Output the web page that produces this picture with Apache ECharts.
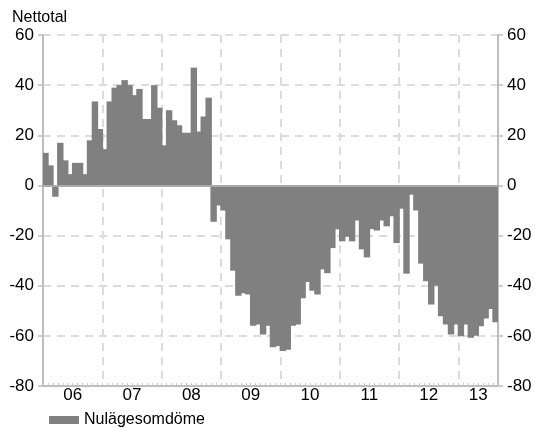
<!DOCTYPE html>
<html>
<head>
<meta charset="utf-8">
<script src="https://cdn.jsdelivr.net/npm/echarts@6/dist/echarts.min.js"></script>
<style>html,body{margin:0;padding:0;background:#fff}#c{width:535px;height:428px}</style>
</head>
<body>
<div id="c"></div>
<script>
// ---- data ----
const yearLabels = ['06', '07', '08', '09', '10', '11', '12', '13'];
const v2006 = [13, 8, -4.5, 17, 10, 4.5, 9, 9, 4.5, 18, 33.5, 22.5];
const v2007 = [14.5, 33.5, 39, 40, 42, 40, 36, 38.5, 26.5, 26.5, 40, 31];
const v2008 = [16, 30, 26, 24, 21, 21, 47, 21.5, 27.5, 35, -14.5, -8];
const v2009 = [-10, -21.5, -34, -44, -43, -43.5, -56, -55.5, -59.5, -56, -64.5, -64];
const v2010 = [-66, -65.5, -56, -55.5, -45, -38.5, -42, -43.5, -33.5, -35, -25, -17.5];
const v2011 = [-22.3, -20.5, -22.3, -14, -25.5, -28.7, -17.4, -18, -14, -16.3, -12.3, -23];
const v2012 = [-9.3, -35.2, -3.7, -10, -31.2, -38.2, -47.5, -40, -52.2, -55.5, -59.5, -55.5];
const v2013 = [-60.2, -55.5, -60.8, -60, -56.2, -53.1, -49.3, -54.6];
const yearValues = [v2006, v2007, v2008, v2009, v2010, v2011, v2012, v2013];
const yTicks = [-80, -60, -40, -20, 0, 20, 40, 60];
const seriesName = 'Nulägesomdöme';
const yName = 'Nettotal';

// ---- derived ----
const months = [];
const values = [];
const labelPos = [];
const labelText = {};
let idx = 0;
yearValues.forEach((arr, yi) => {
  const start = idx;
  arr.forEach((v, mi) => {
    months.push('20' + yearLabels[yi] + '-' + (mi + 1));
    values.push(v);
    idx++;
  });
  const c = start + arr.length / 2;
  labelPos.push(c);
  labelText[c] = yearLabels[yi];
});
const N = months.length;

const FONT = "'Liberation Sans Narrow', 'Liberation Sans', Arial, sans-serif";
const gridCol = '#dcdcdc';
const axisCol = '#bdbdbd';

const chart = echarts.init(document.getElementById('c'), null, {renderer: 'canvas'});
chart.setOption({
  animation: false,
  textStyle: {fontFamily: FONT, color: '#000'},
  title: {
    text: yName, left: 7, top: 5,
    textStyle: {fontSize: 16, fontWeight: 'normal', color: '#000', fontFamily: FONT}
  },
  legend: {
    data: [seriesName], left: 44, top: 407,
    icon: 'rect', itemWidth: 30, itemHeight: 8, itemGap: 6,
    textStyle: {fontSize: 16, color: '#000', fontFamily: FONT}
  },
  grid: {left: 43, right: 37, top: 35, bottom: 42, containLabel: false},
  xAxis: [
    { // bars axis; its line is the zero line
      type: 'category', data: months, position: 'bottom', z: 10,
      axisLine: {show: true, onZero: true, lineStyle: {color: '#aaaaaa', width: 2}},
      axisTick: {show: false}, axisLabel: {show: false}, splitLine: {show: false}
    },
    { // bottom frame, month ticks, year gridlines
      type: 'category', data: months, position: 'bottom',
      axisLine: {show: true, onZero: false, lineStyle: {color: axisCol, width: 2}},
      axisTick: {show: true, interval: 0, inside: true, length: 3, lineStyle: {color: '#c8c8c8', width: 1}},
      axisLabel: {show: false},
      splitLine: {
        show: true,
        interval: (i) => i > 0 && months[i] && months[i].endsWith('-1'),
        lineStyle: {color: gridCol, width: 2, type: [8, 6]}
      }
    },
    { // year labels centred in each year
      type: 'value', min: 0, max: N, position: 'bottom',
      axisLine: {show: false, onZero: false}, axisTick: {show: false}, splitLine: {show: false},
      axisLabel: {
        show: true, customValues: labelPos, margin: 1, fontSize: 17, color: '#000',
        formatter: (v) => labelText[v] || ''
      }
    }
  ],
  yAxis: [
    {
      type: 'value', min: yTicks[0], max: yTicks[yTicks.length - 1], interval: 20, position: 'left',
      axisLine: {show: true, onZero: false, lineStyle: {color: axisCol, width: 2}},
      axisTick: {show: true, length: 5, lineStyle: {color: axisCol, width: 1.5}},
      axisLabel: {fontSize: 17, color: '#000', margin: 9},
      splitLine: {show: true, lineStyle: {color: gridCol, width: 2, type: [8, 6]}}
    },
    {
      type: 'value', min: yTicks[0], max: yTicks[yTicks.length - 1], interval: 20, position: 'right',
      axisLine: {show: true, onZero: false, lineStyle: {color: axisCol, width: 2}},
      axisTick: {show: true, length: 5, lineStyle: {color: axisCol, width: 1.5}},
      axisLabel: {fontSize: 17, color: '#000', margin: 9},
      splitLine: {show: false}
    }
  ],
  series: [{
    name: seriesName, type: 'bar', data: values,
    xAxisIndex: 0, yAxisIndex: 0,
    barWidth: '130%',
    itemStyle: {color: '#808080'}
  }]
});
</script>
</body>
</html>
